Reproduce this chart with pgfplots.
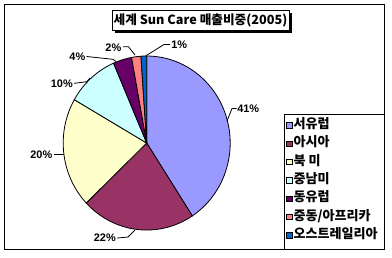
\documentclass[border=0pt]{standalone}
\usepackage{pgfplots}
\pgfplotsset{compat=1.18}
\usepackage{fontspec}
\setmainfont{Liberation Sans}
\newfontfamily\kr{Noto Sans CJK KR}
\definecolor{cA}{HTML}{9999FF}
\definecolor{cB}{HTML}{993366}
\definecolor{cC}{HTML}{FFFFCC}
\definecolor{cD}{HTML}{CCFFFF}
\definecolor{cE}{HTML}{660066}
\definecolor{cF}{HTML}{FF8080}
\definecolor{cG}{HTML}{0066CC}
\begin{document}
\begin{tikzpicture}
\def\cx{146.7}\def\cy{143}\def\rx{83.5}\def\ry{87}
% shares (%)
\def\vA{40.8}\def\vB{22.1}\def\vC{20.4}\def\vD{10.2}\def\vE{3.6}\def\vF{1.8}\def\vG{1.1}
\pgfmathsetmacro\aA{90}
\pgfmathsetmacro\aB{\aA-3.6*\vA}
\pgfmathsetmacro\aC{\aB-3.6*\vB}
\pgfmathsetmacro\aD{\aC-3.6*\vC}
\pgfmathsetmacro\aE{\aD-3.6*\vD}
\pgfmathsetmacro\aF{\aE-3.6*\vE}
\pgfmathsetmacro\aG{\aF-3.6*\vF}
\pgfmathsetmacro\aH{\aG-3.6*\vG}
\begin{axis}[
  scale only axis, width=294pt, height=192.75pt,
  xmin=0, xmax=392, ymin=0, ymax=257, y dir=reverse,
  hide axis, clip=false,
  legend cell align=left,
  legend image code/.code={\draw[#1,draw=black,line width=0.4pt] (0pt,-2.1pt) rectangle (4.2pt,2.1pt);},
  legend style={draw=none, fill=none, at={(axis description cs:0.7245,0.5564)}, anchor=north west,
    inner xsep=1.4pt, inner ysep=4.25pt, row sep=5.75pt, column sep=1pt,
    font=\kr\bfseries\fontsize{9.8}{10}\selectfont,
    nodes={inner sep=0pt, text height=6.5pt, text depth=1.5pt}},
]
\path (axis cs:0,0) rectangle (axis cs:392,257);
\addplot[fill=cA, draw=black, line width=0.6pt, domain=\aB:\aA, samples=60] ({\cx+\rx*cos(x)},{\cy-\ry*sin(x)}) -- (axis cs:\cx,\cy) -- cycle;
\addlegendentry{서유럽}
\addplot[fill=cB, draw=black, line width=0.6pt, domain=\aC:\aB, samples=40] ({\cx+\rx*cos(x)},{\cy-\ry*sin(x)}) -- (axis cs:\cx,\cy) -- cycle;
\addlegendentry{아시아}
\addplot[fill=cC, draw=black, line width=0.6pt, domain=\aD:\aC, samples=40] ({\cx+\rx*cos(x)},{\cy-\ry*sin(x)}) -- (axis cs:\cx,\cy) -- cycle;
\addlegendentry{북 미}
\addplot[fill=cD, draw=black, line width=0.6pt, domain=\aE:\aD, samples=20] ({\cx+\rx*cos(x)},{\cy-\ry*sin(x)}) -- (axis cs:\cx,\cy) -- cycle;
\addlegendentry{중남미}
\addplot[fill=cE, draw=black, line width=0.6pt, domain=\aF:\aE, samples=10] ({\cx+\rx*cos(x)},{\cy-\ry*sin(x)}) -- (axis cs:\cx,\cy) -- cycle;
\addlegendentry{동유럽}
\addplot[fill=cF, draw=black, line width=0.6pt, domain=\aG:\aF, samples=6] ({\cx+\rx*cos(x)},{\cy-\ry*sin(x)}) -- (axis cs:\cx,\cy) -- cycle;
\addlegendentry{중동/아프리카}
\addplot[fill=cG, draw=black, line width=0.6pt, domain=\aH:\aG, samples=4] ({\cx+\rx*cos(x)},{\cy-\ry*sin(x)}) -- (axis cs:\cx,\cy) -- cycle;
\addlegendentry{오스트레일리아}
% outer border and legend frame
\draw[line width=0.75pt] (axis cs:4,4) rectangle (axis cs:384,249);
\draw[line width=0.75pt] (axis cs:284,249) |- (axis cs:384,114);
% title
\fill[black] (axis cs:114.5,12.5) rectangle (axis cs:291.5,32.5);
\draw[fill=white, line width=0.75pt] (axis cs:112,10) rectangle (axis cs:289,30);
\node[font=\kr\bfseries\fontsize{9.5}{10}\selectfont, inner sep=0pt] at (axis cs:200.5,20) {세계 Sun Care 매출비중(2005)};
% data labels with leader lines
\tikzset{lbl/.style={font=\bfseries\fontsize{8.2}{9}\selectfont, inner sep=0pt}}
\draw[line width=0.6pt] (axis cs:227,121) -- (axis cs:232,108.5) -- (axis cs:236.5,108.5);
\node[lbl, anchor=west] at (axis cs:237,109) {41\%};
\draw[line width=0.6pt] (axis cs:135,230) -- (axis cs:128,237) -- (axis cs:117,238);
\node[lbl, anchor=east] at (axis cs:116,238) {22\%};
\draw[line width=0.6pt] (axis cs:63.5,154.5) -- (axis cs:53.5,154.5);
\node[lbl, anchor=east] at (axis cs:52.5,155) {20\%};
\draw[line width=0.6pt] (axis cs:90,78) -- (axis cs:86.7,81.7) -- (axis cs:74,83.3);
\node[lbl, anchor=east] at (axis cs:73,83.5) {10\%};
\draw[line width=0.6pt] (axis cs:116,61.5) -- (axis cs:113,59.3) -- (axis cs:86.7,56.5);
\node[lbl, anchor=east] at (axis cs:85.5,57) {4\%};
\draw[line width=0.6pt] (axis cs:135,55) -- (axis cs:128.5,46.7) -- (axis cs:123,46.7);
\node[lbl, anchor=east] at (axis cs:121.5,47.5) {2\%};
\draw[line width=0.6pt] (axis cs:145.5,56) -- (axis cs:164,44.5) -- (axis cs:170,44.5);
\node[lbl, anchor=west] at (axis cs:171,44.5) {1\%};
\end{axis}
\end{tikzpicture}
\end{document}
